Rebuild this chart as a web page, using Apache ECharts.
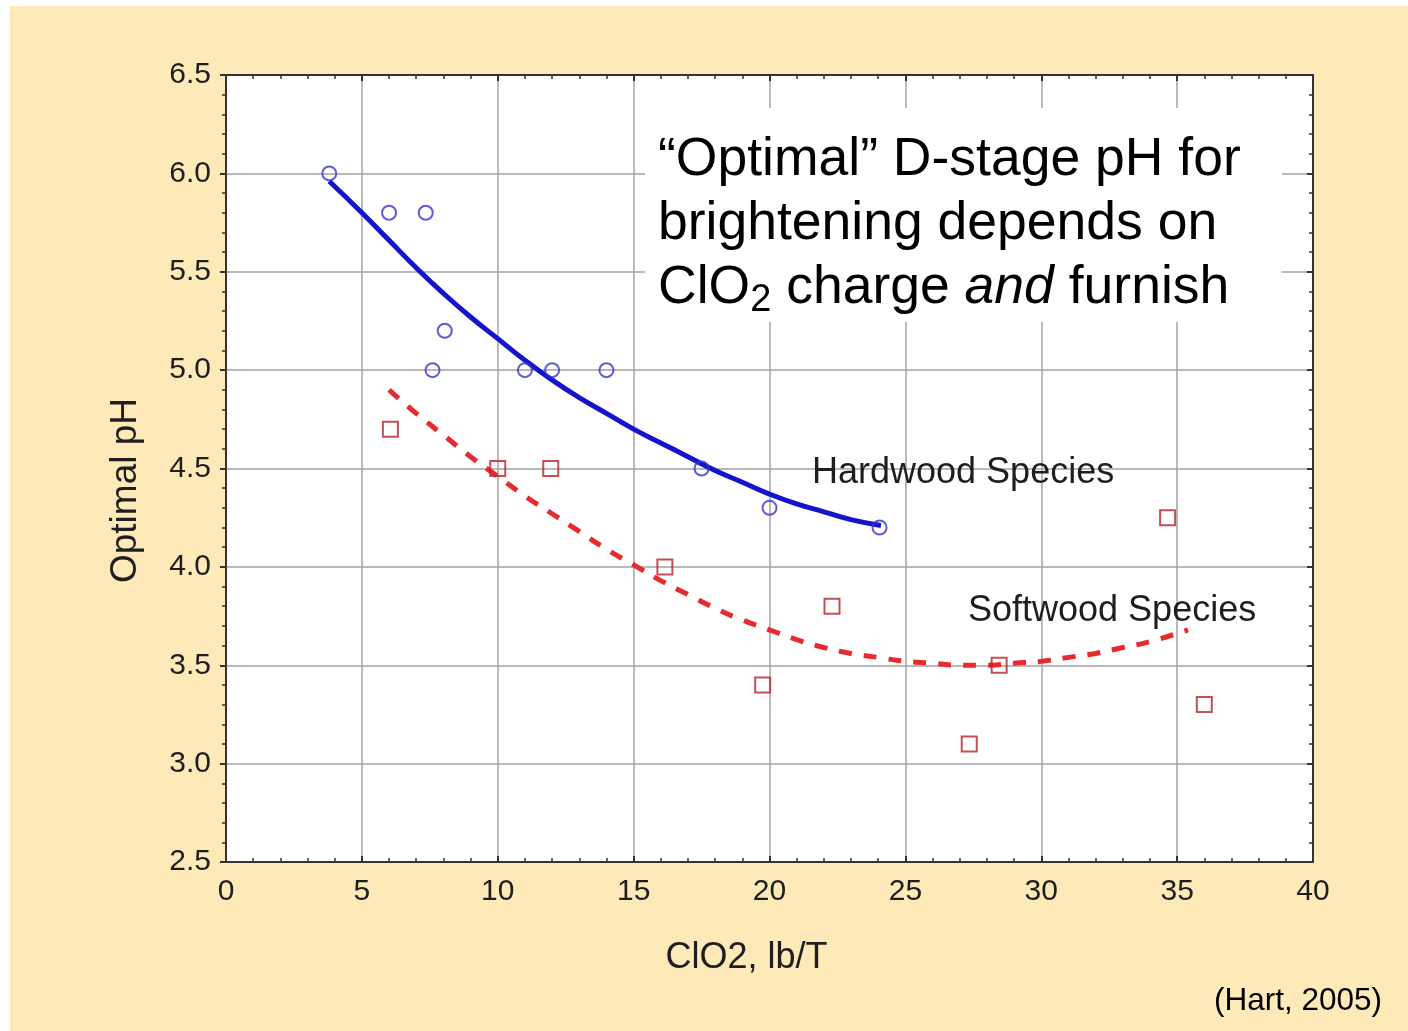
<!DOCTYPE html>
<html>
<head>
<meta charset="utf-8">
<script src="https://cdn.jsdelivr.net/npm/echarts@6/dist/echarts.min.js"></script>
<style>
  html, body { margin: 0; padding: 0; background: #ffffff; }
  #bg { position: absolute; left: 10px; top: 6px; width: 1398px; height: 1025px; background: #fdeab8; }
  #chart { position: absolute; left: 0; top: 0; width: 1408px; height: 1031px; }
</style>
</head>
<body>
<div id="bg"></div>
<div id="chart"></div>
<script>
// ---- data ----
var xTicks = [0, 5, 10, 15, 20, 25, 30, 35, 40];
var yTicks = [2.5, 3.0, 3.5, 4.0, 4.5, 5.0, 5.5, 6.0, 6.5];

var hardX = [3.8, 6.0, 7.35, 7.6, 8.05, 11.0, 12.0, 14.0, 17.5, 20.0, 24.05];
var hardY = [6.0, 5.8, 5.8, 5.0, 5.2, 5.0, 5.0, 5.0, 4.5, 4.3, 4.2];

var softX = [6.05, 10.0, 11.95, 16.15, 19.75, 22.3, 27.35, 28.45, 34.65, 36.0];
var softY = [4.7, 4.5, 4.5, 4.0, 3.4, 3.8, 3.1, 3.5, 4.25, 3.3];

var hardCurveX = [3.8, 5, 6, 7, 8, 9, 10, 11, 12, 13, 14, 15, 16, 17, 18, 19, 20, 21, 22, 23, 24.1];
var hardCurveY = [5.96, 5.80, 5.66, 5.52, 5.39, 5.27, 5.16, 5.05, 4.95, 4.86, 4.78, 4.70, 4.63, 4.56, 4.49, 4.43, 4.37, 4.32, 4.28, 4.24, 4.21];

var softCurveX = [6.0, 7, 8, 9, 10, 11, 12, 13, 14, 15, 16, 17, 18, 19, 20, 21, 22, 23, 24, 25, 26, 27, 28, 29, 30, 31, 32, 33, 34, 35.4];
var softCurveY = [4.90, 4.78, 4.67, 4.56, 4.46, 4.36, 4.27, 4.18, 4.09, 4.01, 3.93, 3.86, 3.79, 3.73, 3.68, 3.63, 3.59, 3.56, 3.54, 3.52, 3.51, 3.50, 3.50, 3.51, 3.52, 3.54, 3.56, 3.59, 3.62, 3.68];

var xName = 'ClO2, lb/T';
var yName = 'Optimal pH';
var hardLabel = 'Hardwood Species';
var softLabel = 'Softwood Species';
var sourceText = '(Hart, 2005)';

function zip(a, b) { return a.map(function (v, i) { return [v, b[i]]; }); }

var FONT = '"Liberation Sans", Arial, Helvetica, sans-serif';
var AX = '#333333';
var GRIDC = '#a2a2a2';

var chart = echarts.init(document.getElementById('chart'), null, { renderer: 'canvas' });

function axisCommon(extra) {
  return Object.assign({
    type: 'value',
    axisLine: { show: true, onZero: false, lineStyle: { color: AX, width: 2 } },
    axisTick: { show: true, inside: true, length: 6, lineStyle: { color: AX, width: 2 } },
    minorTick: { show: true, splitNumber: 5, length: 4, lineStyle: { color: AX, width: 1.5 } },
    minorSplitLine: { show: false }
  }, extra);
}

var option = {
  backgroundColor: 'transparent',
  animation: false,
  grid: { left: 226, right: 95, top: 75, bottom: 169, show: true, backgroundColor: '#ffffff', borderWidth: 0 },
  xAxis: [
    axisCommon({
      position: 'bottom', min: xTicks[0], max: xTicks[xTicks.length - 1], interval: 5,
      splitLine: { show: true, lineStyle: { color: GRIDC, width: 1.5 } },
      axisLabel: { fontFamily: FONT, fontSize: 30, color: '#1e1e1e', margin: 15 },
      name: xName, nameLocation: 'middle', nameGap: 78,
      nameTextStyle: { fontFamily: FONT, fontSize: 36, color: '#1e1e1e', padding: [0, 46, 0, 0] }
    }),
    axisCommon({
      position: 'top', min: xTicks[0], max: xTicks[xTicks.length - 1], interval: 5,
      splitLine: { show: false }, axisLabel: { show: false }
    })
  ],
  yAxis: [
    axisCommon({
      position: 'left', min: yTicks[0], max: yTicks[yTicks.length - 1], interval: 0.5,
      axisTick: { show: true, inside: false, length: 6, lineStyle: { color: AX, width: 2 } },
      minorTick: { show: true, splitNumber: 5, length: 4, lineStyle: { color: AX, width: 1.5 } },
      splitLine: { show: true, lineStyle: { color: GRIDC, width: 1.5 } },
      axisLabel: { fontFamily: FONT, fontSize: 30, color: '#1e1e1e', margin: 15,
        formatter: function (v) { return v.toFixed(1); } },
      name: yName, nameLocation: 'middle', nameGap: 82, nameRotate: 90,
      nameTextStyle: { fontFamily: FONT, fontSize: 37, color: '#1e1e1e', padding: [0, 44, 0, 0] }
    }),
    axisCommon({
      position: 'right', min: yTicks[0], max: yTicks[yTicks.length - 1], interval: 0.5,
      splitLine: { show: false }, axisLabel: { show: false }
    })
  ],
  series: [
    {
      type: 'line', xAxisIndex: 0, yAxisIndex: 0, data: zip(hardCurveX, hardCurveY),
      smooth: true, showSymbol: false, symbol: 'none', z: 3,
      lineStyle: { color: '#1414cc', width: 5 }
    },
    {
      type: 'line', xAxisIndex: 0, yAxisIndex: 0, data: zip(softCurveX, softCurveY),
      smooth: true, showSymbol: false, symbol: 'none', z: 3,
      lineStyle: { color: '#e62a2e', width: 5, type: [13, 12] }
    },
    {
      type: 'scatter', xAxisIndex: 0, yAxisIndex: 0, data: zip(hardX, hardY),
      symbol: 'circle', symbolSize: 14, z: 4,
      itemStyle: { color: 'rgba(255,255,255,0)', borderColor: '#3434cc', borderWidth: 2 }
    },
    {
      type: 'scatter', xAxisIndex: 0, yAxisIndex: 0, data: zip(softX, softY),
      symbol: 'rect', symbolSize: 15, z: 4,
      itemStyle: { color: 'rgba(255,255,255,0)', borderColor: '#b52329', borderWidth: 2 }
    }
  ],
  graphic: [
    { type: 'rect', z: 50, shape: { x: 645, y: 108, width: 637, height: 214 }, style: { fill: '#ffffff' } },
    {
      type: 'text', z: 51, x: 658, y: 128,
      style: {
        text: '“Optimal” D-stage pH for\nbrightening depends on\nClO{s|2} charge {i|and} furnish',
        fontFamily: FONT, fontSize: 53.5, lineHeight: 64, fill: '#000000',
        verticalAlign: 'top', align: 'left',
        rich: {
          s: { fontFamily: FONT, fontSize: 38, lineHeight: 36, verticalAlign: 'bottom', fill: '#000000' },
          i: { fontFamily: FONT, fontSize: 53.5, lineHeight: 64, fontStyle: 'italic', fill: '#000000' }
        }
      }
    },
    { type: 'text', z: 51, x: 812, y: 473,
      style: { text: hardLabel, fontFamily: FONT, fontSize: 36, fill: '#1e1e1e', verticalAlign: 'middle', align: 'left' } },
    { type: 'text', z: 51, x: 968, y: 611,
      style: { text: softLabel, fontFamily: FONT, fontSize: 36, fill: '#1e1e1e', verticalAlign: 'middle', align: 'left' } },
    { type: 'text', z: 51, x: 1382, y: 1001,
      style: { text: sourceText, fontFamily: FONT, fontSize: 31.5, fill: '#000000', verticalAlign: 'middle', align: 'right' } }
  ]
};
chart.setOption(option);
</script>
</body>
</html>
